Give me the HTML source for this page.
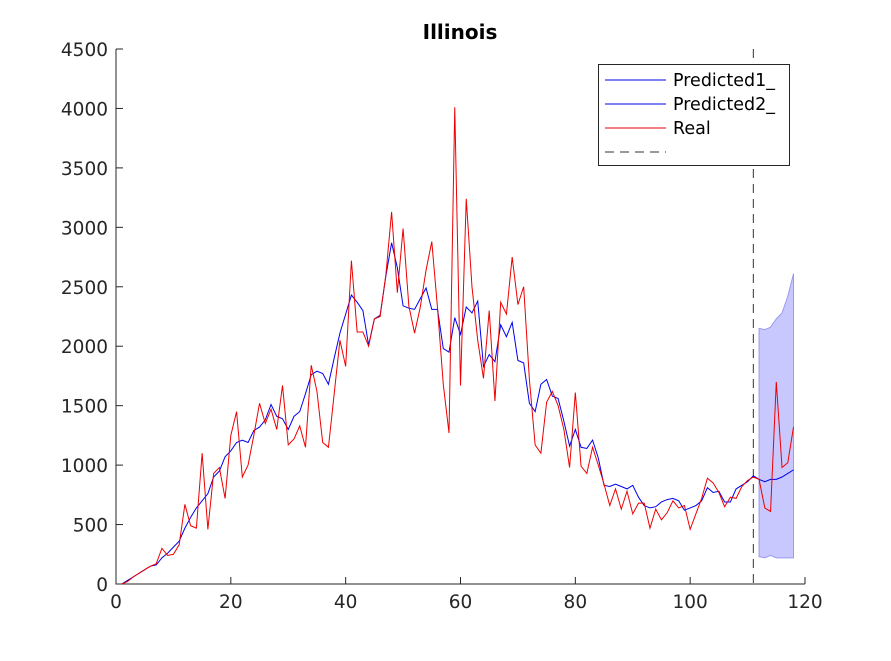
<!DOCTYPE html>
<html><head><meta charset="utf-8"><style>
body{margin:0;background:#fff;}
svg text{font-family:"DejaVu Sans","Liberation Sans",sans-serif;}
</style></head><body>
<svg id="chart" width="891" height="656" viewBox="0 0 891 656">
<rect width="891" height="656" fill="#fff"/>
<g id="plot"></g>
</svg>
<script>
const realVals=[0,20,60,90,120,150,170,300,240,250,330,670,490,470,1100,460,930,980,720,1250,1450,900,1000,1250,1520,1350,1470,1300,1670,1170,1220,1330,1150,1840,1620,1190,1150,1600,2050,1830,2720,2120,2120,2000,2230,2250,2600,3130,2450,2990,2340,2110,2330,2640,2880,2320,1680,1270,4010,1670,3240,2500,2050,1730,2300,1540,2370,2270,2750,2350,2500,1720,1170,1100,1530,1620,1500,1300,980,1610,990,930,1150,1000,840,660,800,630,780,590,680,680,470,630,540,600,700,640,660,460,590,720,890,850,770,650,730,720,820,870,900,880,640,610,1700,980,1020,1320];
const predVals=[0,30,60,90,120,150,160,220,260,310,360,470,560,640,700,760,900,950,1070,1120,1190,1210,1190,1290,1320,1380,1510,1410,1390,1300,1410,1450,1600,1760,1790,1770,1680,1900,2110,2270,2430,2370,2300,2010,2230,2260,2590,2870,2660,2340,2320,2310,2400,2490,2310,2310,1980,1950,2240,2100,2330,2280,2380,1830,1930,1870,2180,2080,2200,1880,1860,1520,1450,1680,1720,1580,1560,1370,1160,1300,1150,1140,1210,1060,830,820,840,820,800,830,730,660,640,650,690,710,720,700,620,640,660,700,810,770,780,690,690,800,830,860,910,880,860,880,880,900,930,960];
const bandX=[112,113,114,115,116,117,118];
const bandUpper=[2150,2140,2160,2230,2280,2420,2610];
const bandLower=[230,220,240,220,220,220,220];
const xTicks=[0,20,40,60,80,100,120];
const yTicks=[0,500,1000,1500,2000,2500,3000,3500,4000,4500];
const splitX=111;

const X0=116,X1=805,Y0=584,Y1=49;
const sx=v=>X0+(v/120)*(X1-X0);
const sy=v=>Y0-(v/4500)*(Y0-Y1);
const NS='http://www.w3.org/2000/svg';
const g=document.getElementById('plot');
function mk(t,a){const e=document.createElementNS(NS,t);for(const k in a)e.setAttribute(k,a[k]);g.appendChild(e);return e;}

let bp=bandX.map((x,i)=>sx(x)+','+sy(bandUpper[i])).concat(bandX.slice().reverse().map((x,i)=>sx(x)+','+sy(bandLower[bandX.length-1-i])));
const band=mk('polygon',{points:bp.join(' '),fill:'#c8c8ff',stroke:'#9a9af0','stroke-width':1});



const ax=mk('path',{d:`M${X0},${Y1} L${X0},${Y0} L${X1},${Y0}`,fill:'none',stroke:'#262626','stroke-width':1});


xTicks.forEach(t=>{
  mk('line',{x1:sx(t),x2:sx(t),y1:Y0,y2:Y0-7,stroke:'#262626'});
  const tx=mk('text',{x:sx(t),y:Y0+24,'text-anchor':'middle','font-size':18.5,fill:'#262626'});
  tx.textContent=t;
  
  
});
yTicks.forEach(t=>{
  mk('line',{x1:X0,x2:X0+7,y1:sy(t),y2:sy(t),stroke:'#262626'});
  const tx=mk('text',{x:X0-8,y:sy(t)+7,'text-anchor':'end','font-size':18.5,fill:'#262626'});
  tx.textContent=t;
  
  
});

const dl=mk('line',{x1:sx(splitX),x2:sx(splitX),y1:Y1,y2:Y0,stroke:'#333','stroke-dasharray':'9,6','stroke-width':1});



const pl=mk('polyline',{points:predVals.map((v,i)=>sx(i+1)+','+sy(v)).join(' '),fill:'none',stroke:'#0000ee','stroke-width':1});


const rl=mk('polyline',{points:realVals.map((v,i)=>sx(i+1)+','+sy(v)).join(' '),fill:'none',stroke:'#ee0000','stroke-width':1});



const title=mk('text',{x:460,y:39,'text-anchor':'middle','font-size':20,'font-weight':'bold',fill:'#000'});
title.textContent='Illinois';



const lb=mk('rect',{x:598.5,y:64.5,width:191,height:101,fill:'#fff',stroke:'#262626'});


const items=[['Predicted1_','#0000ee',null],['Predicted2_','#0000ee',null],['Real','#ee0000',null],['','#333','9,6']];
items.forEach((it,i)=>{
  const y=80+i*24;
  const l=mk('line',{x1:605,x2:666,y1:y,y2:y,stroke:it[1],'stroke-width':1});
  if(it[2])l.setAttribute('stroke-dasharray',it[2]);
  
  
  if(it[0]){const t=mk('text',{x:673,y:y+6,'font-size':17.5,fill:'#000'});t.textContent=it[0];
  
  }
});
</script>
</body></html>
